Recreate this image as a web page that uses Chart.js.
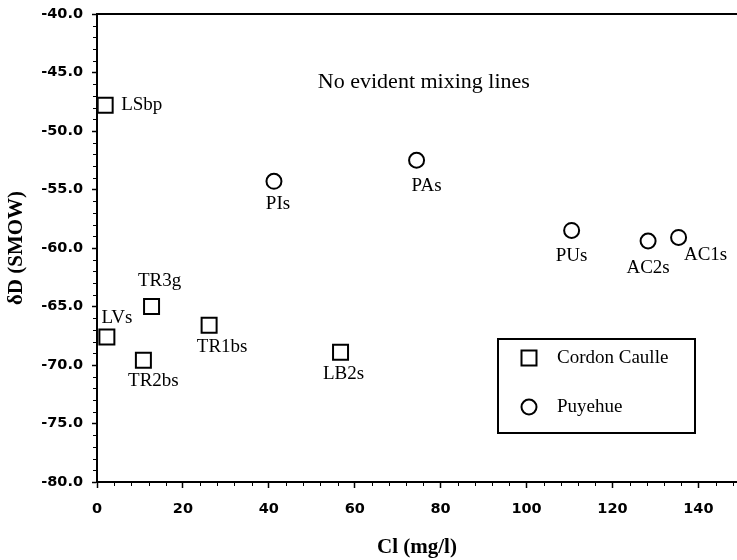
<!DOCTYPE html>
<html>
<head>
<meta charset="utf-8">
<script src="https://cdn.jsdelivr.net/npm/chart.js@4.4.1/dist/chart.umd.min.js"></script>
<style>
  html, body { margin: 0; padding: 0; background: #fff; overflow: hidden; }
  #isoChart { display: block; }
</style>
</head>
<body>
<canvas id="isoChart" width="737" height="560"></canvas>
<script>
// Cordon Caulle samples (squares)
const cordonNames = ['LSbp', 'LVs', 'TR3g', 'TR2bs', 'TR1bs', 'LB2s'];
const cordonCl    = [1.9, 2.3, 12.7, 10.8, 26.1, 56.7];
const cordonD     = [-47.8, -67.6, -65.0, -69.6, -66.6, -68.9];

// Puyehue samples (circles)
const puyehueNames = ['PIs', 'PAs', 'PUs', 'AC2s', 'AC1s'];
const puyehueCl    = [41.2, 74.4, 110.5, 128.3, 135.4];
const puyehueD     = [-54.3, -52.5, -58.5, -59.4, -59.1];

const xTicks = [0, 20, 40, 60, 80, 100, 120, 140];
const yTicks = [-80, -75, -70, -65, -60, -55, -50, -45, -40];

const noteText = 'No evident mixing lines';
const noteCl = 76.1, noteD = -45.8;

// where each point label sits relative to its marker (px, align)
const cordonLabelPos  = [[16, 0, 'left'], [10, -19, 'center'], [8, -25, 'center'], [10, 21, 'center'], [13, 22, 'center'], [3, 22, 'center']];
const puyehueLabelPos = [[4, 23, 'center'], [10, 26, 'center'], [0, 26, 'center'], [0, 27, 'center'], [27, 18, 'center']];

const serif = "'Liberation Serif', 'Times New Roman', serif";
const sans = "'DejaVu Sans', sans-serif";

const toPoints = (xs, ys) => xs.map((x, i) => ({ x: x, y: ys[i] }));

const zeroPad = (s) => { s.paddingLeft = 0; s.paddingRight = 0; s.paddingTop = 0; s.paddingBottom = 0; };

const pointLabels = {
    id: 'pointLabels',
    afterDatasetsDraw(chart) {
        const c = chart.ctx;
        const sets = [[cordonNames, cordonLabelPos], [puyehueNames, puyehueLabelPos]];
        c.save();
        c.fillStyle = '#000';
        c.font = `19px ${serif}`;
        c.textBaseline = 'middle';
        sets.forEach(([names, pos], di) => {
            const meta = chart.getDatasetMeta(di);
            meta.data.forEach((pt, j) => {
                c.textAlign = pos[j][2];
                c.fillText(names[j], pt.x + pos[j][0], pt.y + pos[j][1]);
            });
        });
        // annotation
        const xs = chart.scales.x, ys = chart.scales.y;
        c.font = `22px ${serif}`;
        c.textAlign = 'center';
        c.fillText(noteText, xs.getPixelForValue(noteCl), ys.getPixelForValue(noteD));
        c.restore();
    }
};

const frameAndMinor = {
    id: 'frameAndMinor',
    afterDraw(chart) {
        const c = chart.ctx;
        const { left, right, top, bottom } = chart.chartArea;
        const xs = chart.scales.x, ys = chart.scales.y;
        c.save();
        c.strokeStyle = '#000';
        // top frame line
        c.lineWidth = 2;
        c.beginPath();
        c.moveTo(left - 1, top);
        c.lineTo(right, top);
        c.stroke();
        // minor ticks
        c.lineWidth = 1;
        c.beginPath();
        for (let v = -80; v <= -40; v += 1) {
            if (v % 5 === 0) continue;
            const y = Math.round(ys.getPixelForValue(v)) + 0.5;
            c.moveTo(left - 4, y);
            c.lineTo(left, y);
        }
        for (let v = 0; v <= 148; v += 4) {
            if (v % 20 === 0) continue;
            const x = Math.round(xs.getPixelForValue(v)) + 0.5;
            c.moveTo(x, bottom);
            c.lineTo(x, bottom + 4);
        }
        c.stroke();
        c.restore();
    }
};

const boxLegend = {
    id: 'boxLegend',
    afterDraw(chart) {
        const c = chart.ctx;
        c.save();
        c.strokeStyle = '#000';
        c.lineWidth = 2;
        c.strokeRect(498, 339, 197, 94);
        c.fillStyle = '#fff';
        Chart.helpers.drawPoint(c, { pointStyle: 'rect', radius: 10.6, borderWidth: 2 }, 529, 358);
        Chart.helpers.drawPoint(c, { pointStyle: 'circle', radius: 7.5, borderWidth: 2 }, 529, 407);
        c.fillStyle = '#000';
        c.font = `19px ${serif}`;
        c.textAlign = 'left';
        c.textBaseline = 'middle';
        c.fillText('Cordon Caulle', 557, 358);
        c.fillText('Puyehue', 557, 407);
        c.restore();
    }
};

const ctx = document.getElementById('isoChart').getContext('2d');

new Chart(ctx, {
    type: 'scatter',
    data: {
        datasets: [{
            label: 'Cordon Caulle',
            data: toPoints(cordonCl, cordonD),
            pointStyle: 'rect',
            pointRadius: 10.6,
            borderWidth: 2,
            borderColor: '#000',
            backgroundColor: '#fff',
            clip: false,
        }, {
            label: 'Puyehue',
            data: toPoints(puyehueCl, puyehueD),
            pointStyle: 'circle',
            pointRadius: 7.5,
            borderWidth: 2,
            borderColor: '#000',
            backgroundColor: '#fff',
            clip: false,
        }]
    },
    options: {
        responsive: false,
        animation: false,
        layout: { autoPadding: false, padding: { top: 14, left: 0, right: 0, bottom: 0 } },
        plugins: {
            legend: { display: false },
            tooltip: { enabled: false },
        },
        scales: {
            x: {
                type: 'linear',
                min: 0,
                max: 149,
                afterBuildTicks: (s) => { s.ticks = xTicks.map(v => ({ value: v })); },
                afterFit: (s) => { s.height = 78; zeroPad(s); },
                grid: { drawOnChartArea: false, drawTicks: true, tickLength: 6, tickColor: '#000', tickWidth: 1.5 },
                border: { display: true, color: '#000', width: 2 },
                ticks: {
                    color: '#000',
                    padding: 13,
                    maxRotation: 0,
                    font: { family: sans, size: 14.5, weight: 'bold' },
                },
                title: {
                    display: true,
                    text: 'Cl (mg/l)',
                    color: '#000',
                    padding: { top: 0, bottom: 0 },
                    font: { family: serif, size: 21, weight: 'bold' },
                }
            },
            y: {
                type: 'linear',
                min: -80,
                max: -40,
                afterBuildTicks: (s) => { s.ticks = yTicks.map(v => ({ value: v })); },
                afterFit: (s) => { s.width = 97; zeroPad(s); },
                grid: { drawOnChartArea: false, drawTicks: true, tickLength: 5, tickColor: '#000', tickWidth: 1.5 },
                border: { display: true, color: '#000', width: 2 },
                ticks: {
                    color: '#000',
                    padding: 9,
                    font: { family: sans, size: 14.5, weight: 'bold' },
                    callback: (v) => Number(v).toFixed(1),
                },
                title: {
                    display: true,
                    text: 'δD (SMOW)',
                    color: '#000',
                    padding: { top: 4, bottom: 0 },
                    font: { family: serif, size: 21, weight: 'bold' },
                }
            }
        }
    },
    plugins: [pointLabels, frameAndMinor, boxLegend]
});
</script>
</body>
</html>
